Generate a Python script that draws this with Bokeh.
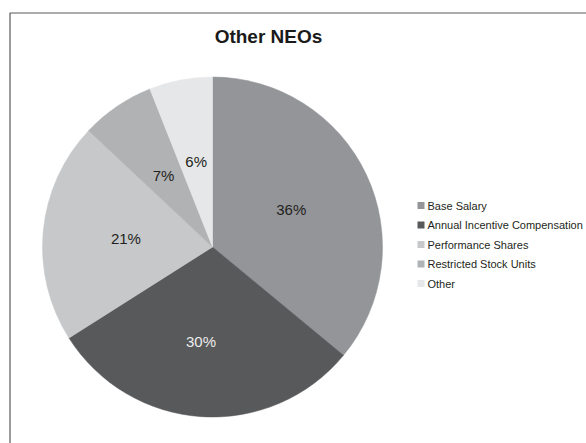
import math
from bokeh.plotting import figure
from bokeh.models import Range1d, ColumnDataSource
from bokeh.core.properties import value
from bokeh.embed import file_html
from bokeh.resources import INLINE

# ---- data ----
title = "Other NEOs"
categories = ["Base Salary", "Annual Incentive Compensation", "Performance Shares",
              "Restricted Stock Units", "Other"]
shares = [36, 30, 21, 7, 6]
labels = ["36%", "30%", "21%", "7%", "6%"]
colors = ["#939598", "#58595b", "#c7c8ca", "#b1b2b4", "#e6e7e8"]
label_colors = ["#231f20", "#ececec", "#231f20", "#231f20", "#231f20"]

W, H = 586, 443
FONT = "Liberation Sans"

# per-label nudges in screen px (layout only)
label_nudge_x = [0, -6, 0, 0, 0]
label_nudge_y = [0, -8, 0, 0, 0]

p = figure(width=W, height=H, output_backend="svg", toolbar_location=None,
           x_range=Range1d(0, W), y_range=Range1d(0, H), min_border=0)
p.axis.visible = False
p.grid.visible = False
p.outline_line_color = None
p.background_fill_color = "white"
p.border_fill_color = "white"

def px(x):
    return x
def py(y):
    return H - y

# border of the chart area
p.line([px(9.5), px(9.5), px(700)], [py(600), py(12.5), py(12.5)], line_color="#5a5a5a", line_width=1.2)

# pie
cx, cy, R = px(212), py(246.5), 170
total = float(sum(shares))
starts, ends, mids = [], [], []
cum = 0.0
for s in shares:
    a0 = math.pi / 2 - 2 * math.pi * cum / total
    cum += s
    a1 = math.pi / 2 - 2 * math.pi * cum / total
    starts.append(a0)
    ends.append(a1)
    mids.append((a0 + a1) / 2)

src = ColumnDataSource(dict(start=starts, end=ends, color=colors,
                            x=[cx] * len(shares), y=[cy] * len(shares)))
p.wedge(x="x", y="y", radius=R, start_angle="start", end_angle="end",
        direction="clock", fill_color="color", line_color="color", line_width=0.5,
        source=src)

r_lab = 87
lx = [cx + r_lab * math.cos(m) + nx for m, nx in zip(mids, label_nudge_x)]
ly = [cy + r_lab * math.sin(m) + ny for m, ny in zip(mids, label_nudge_y)]
p.text(x=lx, y=ly, text=labels, text_color=label_colors, text_align="center",
       text_baseline="middle", text_font=value(FONT), text_font_size="15px")

# title
p.text(x=[px(268)], y=[py(36)], text=[title], text_align="center", text_baseline="middle",
       text_font=value(FONT), text_font_size="19px", text_font_style="bold",
       text_color="#1a1a1a")

# legend
leg_x, leg_y0, leg_dy = px(420.5), py(205), 19.5
ys = [leg_y0 - i * leg_dy for i in range(len(categories))]
p.scatter(x=[leg_x] * len(categories), y=ys, marker="square", size=7,
          fill_color=colors, line_color=None)
p.text(x=[leg_x + 6.5] * len(categories), y=ys, text=categories, text_align="left",
       text_baseline="middle", text_font=value(FONT), text_font_size="11px",
       text_color="#231f20")

open("out.html", "w").write(file_html(p, INLINE))
